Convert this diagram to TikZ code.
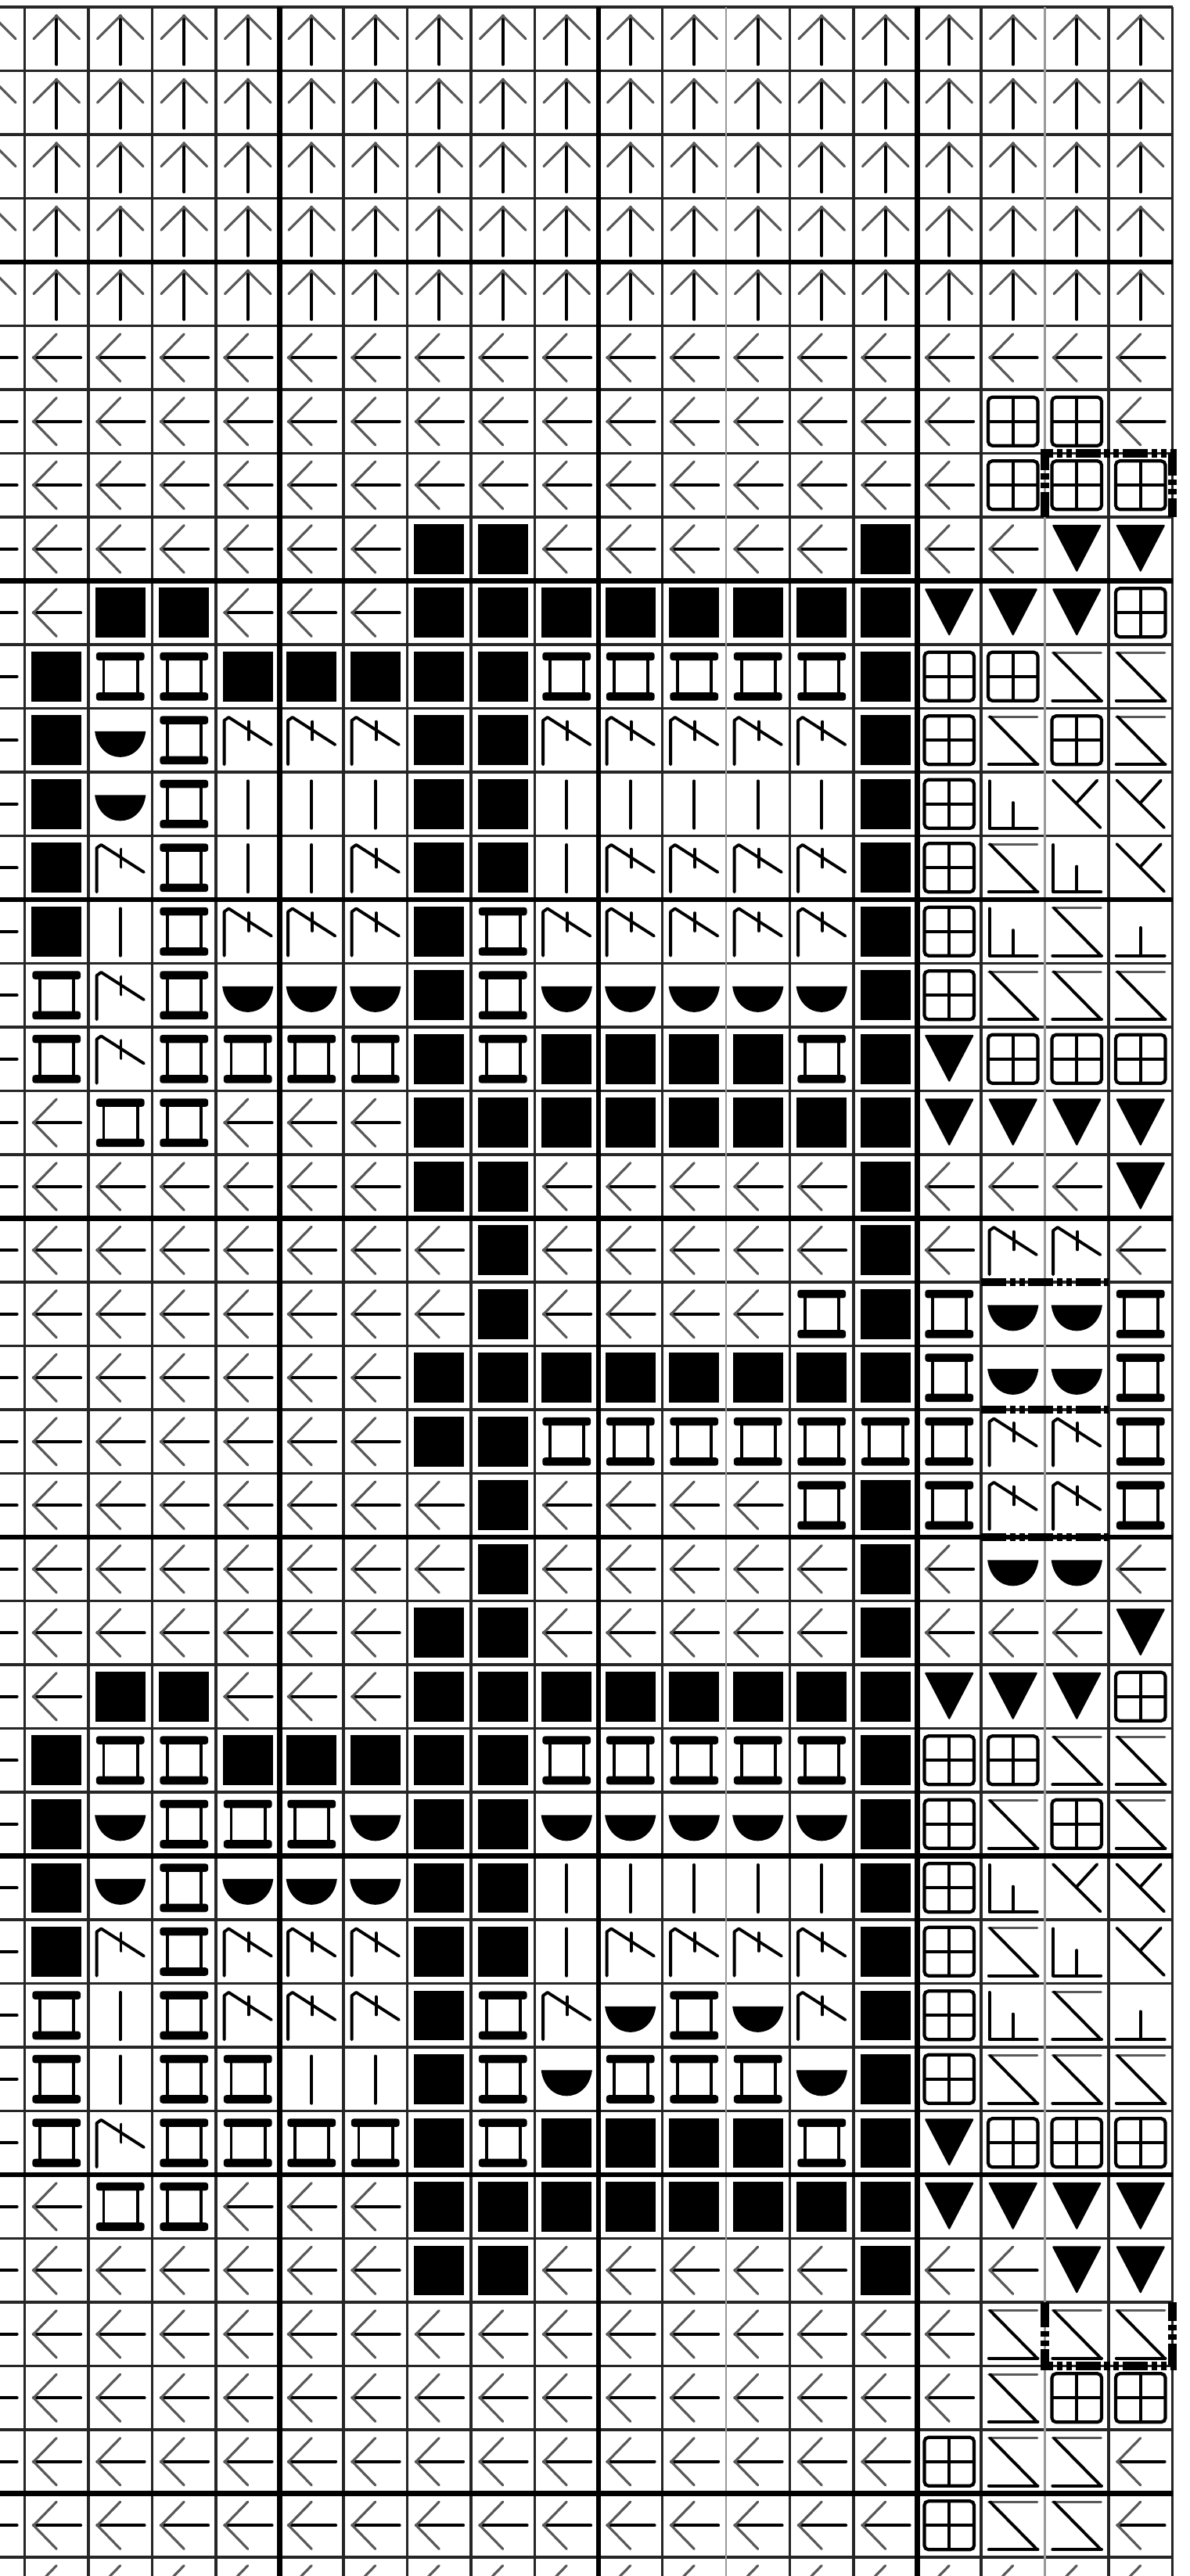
\documentclass[tikz,border=0pt]{standalone}
\usetikzlibrary{arrows.meta}

\tikzset{
  grid rule/.style={line width=1pt, black!85},
  block rule/.style={line width=1.8pt, black},
  faint rule/.style={line width=0.7pt, black!40},
  stitch/.style={line width=1.1pt, line cap=round, line join=round},
  stitch wing/.style={line width=0.9pt, line cap=round, black!65},
  cable edge/.style={line width=3pt, black,
    dash pattern=on 9pt off 1.4pt on 2pt off 1.4pt on 2pt off 1.4pt},
}

% one macro per chart symbol, drawn round the cell centre (cell = 1 unit)
\newcommand\symU{%
  \draw[stitch] (0,-0.40) -- (0,0.36);
  \draw[stitch wing] (-0.36,0.0) -- (0,0.36) -- (0.36,0.0);}
\newcommand\symL{%
  \draw[stitch] (0.38,0) -- (-0.36,0);
  \draw[stitch wing] (0.0,0.37) -- (-0.36,0) -- (0.0,-0.37);}
\newcommand\symB{\fill (-0.39,-0.39) rectangle (0.39,0.39);}
\newcommand\symI{%
  \fill[rounded corners=1pt] (-0.38,0.25) rectangle (0.38,0.38);
  \fill[rounded corners=1pt] (-0.38,-0.38) rectangle (0.38,-0.25);
  \draw[stitch] (-0.26,0.26) -- (-0.26,-0.26) (0.27,0.26) -- (0.27,-0.26);}
\newcommand\symD{\fill (-0.40,0.14) .. controls (-0.33,-0.40) and (0.33,-0.40) .. (0.40,0.14) -- cycle;}
\newcommand\symV{\draw[stitch] (0,0.36) -- (0,-0.38);}
\newcommand\symK{%
  \draw[stitch] (-0.37,-0.38) -- (-0.37,0.31) -- (-0.30,0.36) -- (0.37,-0.07);
  \draw[stitch] (0.01,0.29) -- (0.01,0.01);}
\newcommand\symP{%
  \draw[line width=1.2pt, rounded corners=1.5pt] (-0.39,-0.38) rectangle (0.39,0.38);
  \draw[line width=1.2pt] (0,-0.38) -- (0,0.38) (-0.39,0) -- (0.39,0);}
\newcommand\symT{\fill[rounded corners=0.6pt] (-0.39,0.38) -- (0.39,0.38) -- (0,-0.37) -- cycle;}
\newcommand\symZ{%
  \draw[stitch wing] (-0.38,0.37) -- (0.38,0.37);
  \draw[stitch] (-0.36,0.37) -- (0.38,-0.38);
  \draw[stitch] (-0.38,-0.38) -- (0.39,-0.38);}
\newcommand\symW{%
  \draw[stitch] (-0.37,0.36) -- (-0.37,-0.38) -- (0.38,-0.38);
  \draw[stitch] (0.0,-0.38) -- (0.0,0.02);}
\newcommand\symX{%
  \draw[stitch] (-0.37,0.37) -- (0.37,-0.37);
  \draw[stitch] (0.32,0.37) -- (0.0,0.02);}
\newcommand\symN{%
  \draw[stitch] (-0.38,-0.38) -- (0.38,-0.38);
  \draw[stitch] (0.0,-0.38) -- (0.0,0.06);}

\begin{document}
\begin{tikzpicture}[x=0.815cm, y=0.815cm]
  \useasboundingbox (-0.315cm,0.09cm) rectangle (14.895cm,-32.84cm);
  \fill[white] (-0.315cm,0.09cm) rectangle (14.895cm,-32.84cm);
  \clip (-0.315cm,0.09cm) rectangle (14.895cm,-32.84cm);

  % chart grid: 19 columns (0 cut at the left), 41 rows (41 cut at the foot)
  \foreach \r in {0,...,40}
    \draw[grid rule] (-0.6,-\r) -- (18,-\r);
  \foreach \c in {0,...,10,12,13,14,15,17,18}
    \draw[grid rule] (\c,0) -- (\c,-41.2);
  \foreach \c in {11,16}
    \draw[faint rule] (\c,0) -- (\c,-41.2);
  \foreach \r in {4,9,...,39}
    \draw[block rule] (-0.6,-\r) -- (18,-\r);
  \foreach \c in {4,9,14}
    \draw[block rule] (\c,0) -- (\c,-41.2);

  % symbols, row by row, columns 0..18
  \foreach \rowcodes [count=\r] in {
    {U,U,U,U,U,U,U,U,U,U,U,U,U,U,U,U,U,U,U},
    {U,U,U,U,U,U,U,U,U,U,U,U,U,U,U,U,U,U,U},
    {U,U,U,U,U,U,U,U,U,U,U,U,U,U,U,U,U,U,U},
    {U,U,U,U,U,U,U,U,U,U,U,U,U,U,U,U,U,U,U},
    {U,U,U,U,U,U,U,U,U,U,U,U,U,U,U,U,U,U,U},
    {L,L,L,L,L,L,L,L,L,L,L,L,L,L,L,L,L,L,L},
    {L,L,L,L,L,L,L,L,L,L,L,L,L,L,L,L,P,P,L},
    {L,L,L,L,L,L,L,L,L,L,L,L,L,L,L,L,P,P,P},
    {L,L,L,L,L,L,L,B,B,L,L,L,L,L,B,L,L,T,T},
    {L,L,B,B,L,L,L,B,B,B,B,B,B,B,B,T,T,T,P},
    {L,B,I,I,B,B,B,B,B,I,I,I,I,I,B,P,P,Z,Z},
    {L,B,D,I,K,K,K,B,B,K,K,K,K,K,B,P,Z,P,Z},
    {L,B,D,I,V,V,V,B,B,V,V,V,V,V,B,P,W,X,X},
    {L,B,K,I,V,V,K,B,B,V,K,K,K,K,B,P,Z,W,X},
    {L,B,V,I,K,K,K,B,I,K,K,K,K,K,B,P,W,Z,N},
    {L,I,K,I,D,D,D,B,I,D,D,D,D,D,B,P,Z,Z,Z},
    {L,I,K,I,I,I,I,B,I,B,B,B,B,I,B,T,P,P,P},
    {L,L,I,I,L,L,L,B,B,B,B,B,B,B,B,T,T,T,T},
    {L,L,L,L,L,L,L,B,B,L,L,L,L,L,B,L,L,L,T},
    {L,L,L,L,L,L,L,L,B,L,L,L,L,L,B,L,K,K,L},
    {L,L,L,L,L,L,L,L,B,L,L,L,L,I,B,I,D,D,I},
    {L,L,L,L,L,L,L,B,B,B,B,B,B,B,B,I,D,D,I},
    {L,L,L,L,L,L,L,B,B,I,I,I,I,I,I,I,K,K,I},
    {L,L,L,L,L,L,L,L,B,L,L,L,L,I,B,I,K,K,I},
    {L,L,L,L,L,L,L,L,B,L,L,L,L,L,B,L,D,D,L},
    {L,L,L,L,L,L,L,B,B,L,L,L,L,L,B,L,L,L,T},
    {L,L,B,B,L,L,L,B,B,B,B,B,B,B,B,T,T,T,P},
    {L,B,I,I,B,B,B,B,B,I,I,I,I,I,B,P,P,Z,Z},
    {L,B,D,I,I,I,D,B,B,D,D,D,D,D,B,P,Z,P,Z},
    {L,B,D,I,D,D,D,B,B,V,V,V,V,V,B,P,W,X,X},
    {L,B,K,I,K,K,K,B,B,V,K,K,K,K,B,P,Z,W,X},
    {L,I,V,I,K,K,K,B,I,K,D,I,D,K,B,P,W,Z,N},
    {L,I,V,I,I,V,V,B,I,D,I,I,I,D,B,P,Z,Z,Z},
    {L,I,K,I,I,I,I,B,I,B,B,B,B,I,B,T,P,P,P},
    {L,L,I,I,L,L,L,B,B,B,B,B,B,B,B,T,T,T,T},
    {L,L,L,L,L,L,L,B,B,L,L,L,L,L,B,L,L,T,T},
    {L,L,L,L,L,L,L,L,L,L,L,L,L,L,L,L,Z,Z,Z},
    {L,L,L,L,L,L,L,L,L,L,L,L,L,L,L,L,Z,P,P},
    {L,L,L,L,L,L,L,L,L,L,L,L,L,L,L,P,Z,Z,L},
    {L,L,L,L,L,L,L,L,L,L,L,L,L,L,L,P,Z,Z,L},
    {L,L,L,L,L,L,L,L,L,L,L,L,L,L,L,L,L,L,L}} {
    \foreach \code [count=\c from 0] in \rowcodes {
      \begin{scope}[shift={(\c-0.5,-\r+0.5)}]
        \csname sym\code\endcsname
      \end{scope}
    }
  }

  % heavy broken edges of the cable panel
  \draw[cable edge] (16,-8) -- (16,-7) -- (18,-7) -- (18,-8);
  \foreach \r in {20,22,24}
    \draw[cable edge] (15,-\r) -- (17,-\r);
  \draw[cable edge] (16,-36) -- (16,-37) -- (18,-37) -- (18,-36);
\end{tikzpicture}
\end{document}
